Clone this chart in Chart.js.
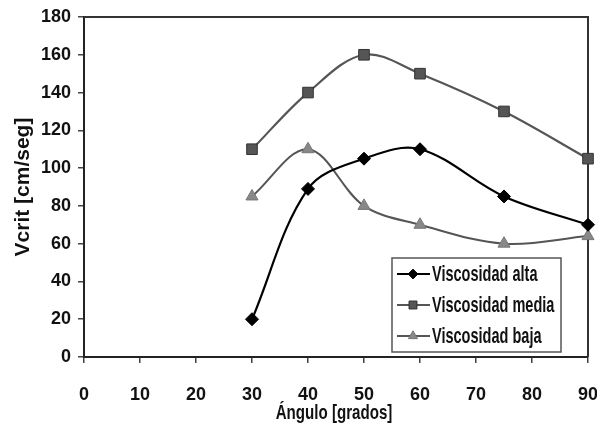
<!DOCTYPE html>
<html>
<head>
<meta charset="utf-8">
<script src="https://cdn.jsdelivr.net/npm/chart.js@4.4.1/dist/chart.umd.min.js"></script>
<style>
html,body{margin:0;padding:0;background:#fff;}
#wrap{width:597px;height:431px;}
</style>
</head>
<body>
<div id="wrap"><canvas id="c" width="597" height="431"></canvas></div>
<script>
const angles = [30, 40, 50, 60, 75, 90];
const viscosidadAlta = [20, 89, 105, 110, 85, 70];
const viscosidadMedia = [110, 140, 160, 150, 130, 105];
const viscosidadBaja = [85, 110, 80, 70, 60, 64];
const seriesNames = ['Viscosidad alta', 'Viscosidad media', 'Viscosidad baja'];
const xTitle = 'Ángulo [grados]';
const yTitle = 'Vcrit [cm/seg]';

const FONT = '"Liberation Sans", Arial, sans-serif';

function pts(vals){ return angles.map((a,i)=>({x:a,y:vals[i]})); }

const frame = {
  id:'frame',
  beforeDatasetsDraw(chart){
    const {ctx, chartArea:a} = chart;
    ctx.save();
    ctx.strokeStyle = '#333';
    ctx.lineWidth = 2;
    ctx.beginPath();
    ctx.moveTo(a.left, a.top); ctx.lineTo(a.right, a.top); ctx.lineTo(a.right, a.bottom);
    ctx.stroke();
    ctx.restore();
  }
};

// x-axis title drawn in a narrow (horizontally condensed) bold face
const narrowXTitle = {
  id:'narrowXTitle',
  afterDraw(chart){
    const {ctx, chartArea:a} = chart;
    ctx.save();
    ctx.fillStyle = '#111';
    ctx.font = 'bold 21px ' + FONT;
    ctx.textAlign = 'center';
    ctx.textBaseline = 'middle';
    const tw = ctx.measureText(xTitle).width;
    ctx.fillText(xTitle, (a.left + a.right) / 2 - 2, a.bottom + 56, tw * 0.72);
    ctx.restore();
  }
};

const boxLegend = {
  id:'boxLegend',
  afterDraw(chart){
    const {ctx, chartArea:a} = chart;
    const x0 = a.right - 196, y0 = a.bottom - 99, w = 169, h = 94;
    ctx.save();
    ctx.fillStyle = '#fff';
    ctx.fillRect(x0, y0, w, h);
    ctx.strokeStyle = '#555';
    ctx.lineWidth = 1.5;
    ctx.strokeRect(x0, y0, w, h);
    chart.data.datasets.forEach((ds, i) => {
      const y = y0 + 16 + i * 31;
      ctx.strokeStyle = ds.borderColor;
      ctx.lineWidth = ds.borderWidth;
      ctx.beginPath(); ctx.moveTo(x0 + 5, y); ctx.lineTo(x0 + 38, y); ctx.stroke();
      ctx.fillStyle = ds.pointBackgroundColor;
      ctx.strokeStyle = ds.pointBorderColor;
      ctx.lineWidth = 1;
      Chart.helpers.drawPoint(ctx, {pointStyle: ds.pointStyle, radius: ds.pointRadius * 0.75, borderWidth: 1}, x0 + 21, y);
      ctx.fillStyle = '#111';
      ctx.font = 'bold 22px ' + FONT;
      ctx.textBaseline = 'middle';
      ctx.textAlign = 'left';
      const tw = ctx.measureText(ds.label).width;
      ctx.fillText(ds.label, x0 + 40, y + 1, tw * 0.66);
    });
    ctx.restore();
  }
};

new Chart(document.getElementById('c'), {
  type:'line',
  data:{
    datasets:[
      {label:seriesNames[0], data:pts(viscosidadAlta), borderColor:'#000', backgroundColor:'#000', borderWidth:2.2,
       pointStyle:'rectRot', pointRadius:6.5, pointBorderWidth:1, pointBorderColor:'#000', pointBackgroundColor:'#000', tension:0.35, clip:false},
      {label:seriesNames[1], data:pts(viscosidadMedia), borderColor:'#555', backgroundColor:'#555', borderWidth:2.2,
       pointStyle:'rect', pointRadius:7.5, pointBorderWidth:1, pointBorderColor:'#333', pointBackgroundColor:'#555', tension:0.35, clip:false},
      {label:seriesNames[2], data:pts(viscosidadBaja), borderColor:'#555', backgroundColor:'#888', borderWidth:2,
       pointStyle:'triangle', pointRadius:7, pointBorderWidth:1, pointBorderColor:'#777', pointBackgroundColor:'#888', tension:0.35, clip:false}
    ]
  },
  options:{
    responsive:false,
    animation:false,
    devicePixelRatio:1,
    layout:{padding:{top:17, right:9, left:0, bottom:0}},
    plugins:{legend:{display:false}, tooltip:{enabled:false}},
    scales:{
      x:{
        type:'linear', min:0, max:90,
        ticks:{stepSize:10, color:'#111', font:{family:FONT, size:18, weight:'bold'}, padding:21, maxRotation:0},
        grid:{drawOnChartArea:false, drawTicks:true, tickLength:6, color:'#444', lineWidth:1.5},
        border:{display:true, color:'#222', width:2},
        title:{display:false},
        afterFit(s){ s.height = 74; s.paddingLeft = 0; s.paddingRight = 0; }
      },
      y:{
        min:0, max:180,
        ticks:{stepSize:20, color:'#111', font:{family:FONT, size:18, weight:'bold'}, padding:7},
        grid:{drawOnChartArea:false, drawTicks:true, tickLength:6, color:'#444', lineWidth:1.5},
        border:{display:true, color:'#222', width:2},
        title:{display:true, text:yTitle, color:'#111', font:{family:FONT, size:21, weight:'bold'}, padding:{top:11,bottom:4}},
        afterFit(s){ s.width = 84; s.paddingTop = 0; s.paddingBottom = 0; }
      }
    }
  },
  plugins:[frame, narrowXTitle, boxLegend]
});
</script>
</body>
</html>
